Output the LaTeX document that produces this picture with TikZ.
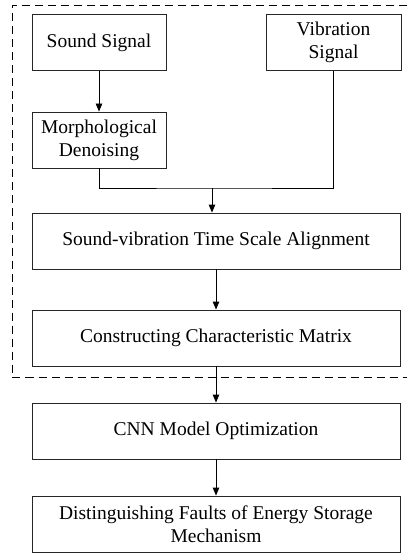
\documentclass[tikz,border=0pt]{standalone}
\usepackage{fontspec}
\setmainfont{Liberation Serif}
\usetikzlibrary{arrows.meta}
\begin{document}
\begin{tikzpicture}[x=1pt,y=-1pt,
  box/.style={draw=black!85, line width=0.9pt, align=center, inner sep=0pt,
    font=\fontsize{19.5}{23}\selectfont},
  smallbox/.style={box, minimum width=134pt, minimum height=56pt},
  widebox/.style={box, minimum width=368pt, minimum height=56pt},
  conn/.style={line width=0.9pt, -{Triangle[length=8pt,width=6.5pt]}},
  plain/.style={line width=0.9pt},
  frame/.style={line width=0.8pt, dash pattern=on 8pt off 5pt}]
\useasboundingbox (0,0) rectangle (407,553);
\draw[frame] (407,5.5) -- (12,5.5) -- (12,377) -- (407,377);
\node[smallbox] (sound) at (99,42.5) {Sound Signal};
\node[smallbox, minimum width=135pt] (vib) at (333.5,42.5) {Vibration\\Signal};
\node[smallbox] (morph) at (99,140) {Morphological\\Denoising};
\node[widebox] (sv) at (216,241) {Sound-vibration Time Scale Alignment};
\node[widebox] (ccm) at (216,338) {Constructing Characteristic Matrix};
\node[widebox] (cnn) at (216,431) {CNN Model Optimization};
\node[widebox] (dist) at (216,524) {Distinguishing Faults of Energy Storage\\Mechanism};
\coordinate (j) at (212,188);
\draw[conn] (sound) -- (morph);
\draw[plain] (morph.south) |- (j) -| (vib.south);
\draw[conn] (j) -- (j |- sv.north);
\draw[conn] (sv) -- (ccm);
\draw[conn] (ccm) -- (cnn);
\draw[conn] (cnn) -- (dist);
\end{tikzpicture}
\end{document}
